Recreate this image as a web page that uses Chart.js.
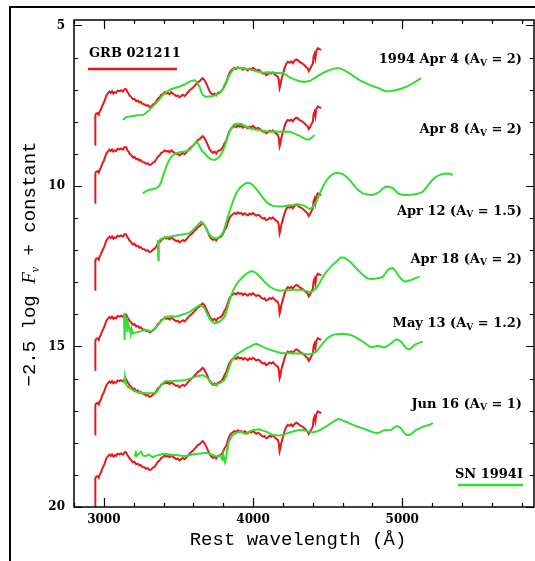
<!DOCTYPE html>
<html>
<head>
<meta charset="utf-8">
<script src="https://cdn.jsdelivr.net/npm/chart.js@4/dist/chart.umd.min.js"></script>
<style>
  html, body { margin: 0; padding: 0; background: #fff; }
  #wrap { width: 535px; height: 561px; }
</style>
</head>
<body>
<div id="wrap"><canvas id="c" width="535" height="561"></canvas></div>
<script>
// GRB 021211 rest-frame spectrum, -2.5 log F_nu (top copy; lower copies are shifted by a constant)
const grb021211 = [
  [2941,8.72],[2942,7.90],[2943,8.50],[2944,7.80],[2948,7.75],[2958,7.73],[2966,7.78],[2972,7.68],
  [2980,7.62],[2991,7.48],[3000,7.40],[3008,7.30],[3018,7.17],[3026,7.12],[3038,7.06],[3046,7.10],
  [3055,7.05],[3064,7.12],[3072,7.08],[3082,7.10],[3092,7.03],[3105,7.05],[3115,7.02],[3128,7.06],
  [3140,6.98],[3150,6.99],[3158,7.08],[3166,7.12],[3172,7.18],[3182,7.22],[3195,7.30],[3205,7.28],
  [3217,7.36],[3228,7.34],[3238,7.40],[3246,7.38],[3258,7.44],[3270,7.45],[3284,7.50],[3295,7.48],
  [3306,7.54],[3318,7.52],[3330,7.46],[3340,7.44],[3352,7.36],[3362,7.28],[3373,7.24],[3385,7.16],
  [3396,7.14],[3408,7.08],[3418,7.12],[3430,7.10],[3440,7.14],[3452,7.08],[3462,7.12],[3474,7.16],
  [3485,7.20],[3496,7.18],[3507,7.24],[3518,7.20],[3530,7.16],[3541,7.20],[3552,7.15],[3564,7.08],
  [3575,7.02],[3586,6.98],[3596,6.94],[3608,6.88],[3620,6.82],[3630,6.76],[3641,6.74],[3652,6.68],
  [3663,6.64],[3674,6.70],[3686,6.80],[3697,6.92],[3708,7.04],[3720,7.12],[3731,7.16],[3742,7.12],
  [3753,7.18],[3764,7.10],[3775,7.08],[3787,7.05],[3798,6.98],[3809,6.86],[3820,6.78],[3831,6.62],
  [3842,6.48],[3854,6.40],[3865,6.36],[3876,6.32],[3887,6.36],[3898,6.30],[3909,6.34],[3921,6.32],
  [3932,6.38],[3943,6.33],[3954,6.36],[3965,6.40],[3977,6.34],[3988,6.37],[3999,6.32],[4010,6.36],
  [4021,6.41],[4033,6.38],[4044,6.40],[4055,6.46],[4066,6.50],[4077,6.48],[4088,6.55],[4100,6.52],
  [4111,6.47],[4122,6.50],[4133,6.46],[4144,6.52],[4155,6.56],[4166,6.60],[4172,6.68],[4178,6.96],
  [4183,6.88],[4189,6.70],[4200,6.52],[4211,6.33],[4222,6.20],[4233,6.13],[4245,6.16],[4256,6.12],
  [4267,6.18],[4278,6.10],[4290,6.06],[4300,6.08],[4312,6.14],[4323,6.16],[4334,6.20],[4345,6.24],
  [4357,6.30],[4367,6.34],[4373,6.42],[4379,6.38],[4390,6.28],[4401,6.18],[4406,5.95],[4412,5.88],
  [4418,6.02],[4424,5.80],[4434,5.71],[4445,5.74],[4457,5.76]
];

// vertical shift of the GRB spectrum in each comparison panel
const grbOffsets = [0, 1.81, 4.52, 7.02, 9.03, 11.31];

// SN 1994I spectra, one per epoch
const sn94iApr4 = [
  [3127,7.94],[3150,7.86],[3172,7.84],[3194,7.82],[3228,7.80],[3261,7.79],[3284,7.72],[3306,7.63],
  [3328,7.52],[3351,7.42],[3373,7.30],[3395,7.17],[3418,7.08],[3440,7.01],[3474,6.95],[3507,6.91],
  [3540,6.84],[3574,6.75],[3608,6.70],[3625,6.78],[3641,6.91],[3652,7.05],[3663,7.17],[3680,7.21],
  [3697,7.22],[3731,7.20],[3753,7.16],[3775,7.11],[3792,7.02],[3809,6.91],[3825,6.74],[3842,6.54],
  [3860,6.42],[3876,6.33],[3904,6.32],[3932,6.33],[3965,6.36],[3999,6.39],[4033,6.44],[4066,6.47],
  [4100,6.46],[4133,6.47],[4166,6.48],[4200,6.49],[4222,6.54],[4245,6.62],[4278,6.68],[4312,6.74],
  [4345,6.76],[4379,6.73],[4412,6.64],[4446,6.54],[4480,6.45],[4513,6.39],[4546,6.34],[4580,6.33],
  [4613,6.40],[4647,6.49],[4680,6.60],[4714,6.70],[4748,6.78],[4781,6.85],[4815,6.91],[4848,6.96],
  [4871,7.02],[4893,7.06],[4926,7.04],[4960,7.01],[4993,6.97],[5027,6.91],[5049,6.86],[5071,6.80],
  [5100,6.72],[5127,6.64]
];
const sn94iApr8 = [
  [3261,10.23],[3284,10.16],[3306,10.12],[3328,10.10],[3351,10.07],[3370,10.00],[3385,9.88],[3395,9.71],
  [3407,9.55],[3418,9.40],[3435,9.22],[3452,9.09],[3468,9.02],[3485,8.98],[3507,8.95],[3529,8.93],
  [3552,8.91],[3574,8.88],[3596,8.76],[3619,8.62],[3630,8.66],[3645,8.80],[3660,8.92],[3675,8.98],
  [3690,9.07],[3708,9.14],[3725,9.18],[3742,9.19],[3758,9.15],[3775,9.09],[3792,8.96],[3809,8.78],
  [3825,8.55],[3842,8.31],[3860,8.16],[3876,8.07],[3900,8.06],[3921,8.07],[3950,8.14],[3977,8.20],
  [4010,8.24],[4044,8.26],[4077,8.29],[4111,8.31],[4145,8.30],[4178,8.31],[4211,8.30],[4245,8.31],
  [4278,8.37],[4312,8.44],[4340,8.51],[4357,8.55],[4375,8.55],[4390,8.51],[4412,8.41]
];
const sn94iApr12 = [
  [3362,11.68],[3365,12.31],[3368,11.75],[3378,11.66],[3395,11.63],[3418,11.60],[3440,11.58],[3474,11.55],
  [3507,11.53],[3540,11.50],[3574,11.47],[3596,11.38],[3619,11.27],[3636,11.18],[3653,11.11],[3670,11.20],
  [3686,11.32],[3703,11.48],[3720,11.58],[3736,11.62],[3753,11.63],[3770,11.60],[3787,11.53],[3800,11.44],
  [3809,11.32],[3820,11.14],[3831,10.96],[3842,10.80],[3854,10.64],[3870,10.42],[3887,10.23],[3910,10.07],
  [3932,9.97],[3950,9.92],[3965,9.90],[3982,9.92],[3999,9.97],[4020,10.08],[4044,10.23],[4066,10.37],
  [4088,10.49],[4111,10.57],[4133,10.62],[4166,10.64],[4200,10.64],[4233,10.61],[4267,10.59],[4290,10.57],
  [4312,10.58],[4345,10.62],[4379,10.72],[4400,10.66],[4424,10.49],[4446,10.25],[4468,10.02],[4490,9.84],
  [4513,9.71],[4535,9.63],[4558,9.59],[4580,9.60],[4602,9.63],[4625,9.71],[4647,9.81],[4670,9.94],
  [4692,10.07],[4714,10.16],[4736,10.23],[4770,10.27],[4803,10.28],[4826,10.24],[4848,10.18],[4870,10.08],
  [4893,10.02],[4915,10.03],[4937,10.07],[4955,10.15],[4971,10.23],[5000,10.27],[5027,10.28],[5060,10.27],
  [5094,10.25],[5116,10.23],[5138,10.18],[5160,10.05],[5183,9.92],[5205,9.80],[5228,9.71],[5260,9.64],
  [5295,9.61],[5320,9.62],[5339,9.66]
];
const sn94iApr18 = [
  [3135,13.97],[3139,14.80],[3143,14.05],[3150,14.12],[3158,14.55],[3162,14.25],[3172,14.43],[3180,14.62],
  [3185,14.45],[3194,14.59],[3215,14.56],[3239,14.54],[3260,14.50],[3284,14.49],[3306,14.52],[3328,14.51],
  [3350,14.40],[3373,14.28],[3395,14.15],[3418,14.07],[3450,14.06],[3485,14.07],[3518,14.02],[3552,13.97],
  [3575,13.92],[3596,13.86],[3620,13.78],[3641,13.71],[3658,13.74],[3675,13.81],[3690,13.96],[3708,14.12],
  [3725,14.22],[3742,14.28],[3758,14.26],[3775,14.23],[3792,14.16],[3809,14.07],[3820,13.93],[3831,13.76],
  [3842,13.58],[3854,13.40],[3870,13.22],[3887,13.08],[3910,12.94],[3932,12.83],[3960,12.72],[3988,12.65],
  [4005,12.67],[4021,12.72],[4044,12.82],[4066,12.93],[4088,13.04],[4111,13.14],[4145,13.22],[4178,13.26],
  [4211,13.25],[4245,13.25],[4278,13.23],[4312,13.23],[4345,13.26],[4379,13.30],[4400,13.28],[4424,13.19],
  [4446,13.02],[4468,12.83],[4490,12.68],[4513,12.56],[4535,12.45],[4558,12.36],[4575,12.28],[4591,12.22],
  [4613,12.24],[4636,12.31],[4660,12.41],[4681,12.51],[4703,12.62],[4725,12.72],[4747,12.81],[4769,12.88],
  [4797,12.90],[4826,12.88],[4850,12.86],[4871,12.83],[4887,12.72],[4903,12.62],[4920,12.57],[4937,12.56],
  [4955,12.65],[4971,12.77],[4993,12.90],[5015,12.98],[5038,12.96],[5060,12.93],[5088,12.87],[5116,12.83]
];
const sn94iMay13 = [
  [3136,15.99],[3139,16.15],[3142,15.95],[3150,16.20],[3167,16.28],[3184,16.33],[3200,16.38],[3217,16.41],
  [3250,16.44],[3284,16.46],[3318,16.46],[3351,16.44],[3368,16.32],[3385,16.20],[3400,16.12],[3418,16.07],
  [3450,16.08],[3485,16.07],[3518,16.06],[3552,16.04],[3586,15.99],[3619,15.94],[3640,15.91],[3663,15.89],
  [3686,15.95],[3708,16.04],[3725,16.14],[3742,16.20],[3758,16.18],[3775,16.15],[3792,16.10],[3809,16.04],
  [3820,15.92],[3831,15.78],[3842,15.62],[3854,15.47],[3870,15.35],[3887,15.26],[3910,15.19],[3932,15.13],
  [3955,15.06],[3977,15.01],[4000,14.95],[4021,14.92],[4044,14.96],[4066,15.01],[4100,15.08],[4133,15.13],
  [4166,15.18],[4200,15.21],[4233,15.21],[4267,15.21],[4300,15.22],[4334,15.23],[4357,15.24],[4379,15.24],
  [4400,15.22],[4424,15.16],[4446,15.03],[4468,14.90],[4490,14.78],[4513,14.69],[4540,14.63],[4569,14.61],
  [4597,14.60],[4625,14.61],[4653,14.64],[4681,14.69],[4708,14.77],[4736,14.85],[4764,14.95],[4792,15.03],
  [4815,15.00],[4837,14.98],[4860,15.01],[4882,15.03],[4905,14.97],[4926,14.90],[4943,14.83],[4960,14.78],
  [4977,14.80],[4993,14.85],[5010,14.96],[5027,15.06],[5049,15.09],[5066,15.03],[5082,14.95],[5100,14.91],
  [5116,14.88],[5138,14.85]
];
const sn94iJun16 = [
  [3206,18.43],[3215,18.30],[3222,18.40],[3239,18.33],[3250,18.28],[3262,18.40],[3284,18.41],[3300,18.36],
  [3328,18.45],[3350,18.40],[3373,18.38],[3395,18.34],[3418,18.35],[3450,18.37],[3485,18.38],[3518,18.40],
  [3552,18.41],[3586,18.37],[3619,18.35],[3650,18.33],[3686,18.31],[3708,18.34],[3731,18.38],[3750,18.42],
  [3764,18.43],[3780,18.40],[3795,18.52],[3800,18.35],[3812,18.60],[3820,18.48],[3826,18.20],[3831,18.07],
  [3842,17.92],[3854,17.81],[3870,17.74],[3887,17.70],[3905,17.66],[3921,17.65],[3938,17.70],[3954,17.73],
  [3977,17.65],[3999,17.60],[4021,17.59],[4044,17.58],[4066,17.62],[4088,17.65],[4111,17.71],[4133,17.76],
  [4166,17.77],[4200,17.76],[4233,17.70],[4267,17.65],[4300,17.61],[4334,17.60],[4357,17.63],[4379,17.66],
  [4400,17.67],[4424,17.65],[4446,17.61],[4468,17.55],[4496,17.47],[4524,17.39],[4547,17.32],[4569,17.26],
  [4591,17.28],[4613,17.33],[4640,17.38],[4669,17.44],[4700,17.50],[4736,17.55],[4764,17.60],[4792,17.65],
  [4815,17.69],[4837,17.70],[4860,17.65],[4882,17.60],[4905,17.61],[4926,17.60],[4943,17.53],[4960,17.48],
  [4977,17.50],[4993,17.55],[5010,17.67],[5027,17.76],[5044,17.76],[5060,17.73],[5077,17.66],[5094,17.60],
  [5116,17.55],[5138,17.50],[5160,17.47],[5183,17.44],[5205,17.39]
];

const snSpectra = [sn94iApr4, sn94iApr8, sn94iApr12, sn94iApr18, sn94iMay13, sn94iJun16];

// epoch labels, extinction used, and the y value each label sits at
const epochLabels = ['1994 Apr 4', 'Apr 8', 'Apr 12', 'Apr 18', 'May 13', 'Jun 16'];
const epochAv = ['2', '2', '1.5', '2', '1.2', '1'];
const epochLabelY = [6.07, 8.25, 10.80, 12.28, 14.30, 16.80];

// axis ticks
const xTickLabels = [3000, 4000, 5000];
const yTickLabels = [5, 10, 15, 20];
const xMinorStep = 200, xMajorStep = 1000;
const yMinorStep = 1, yMajorStep = 5;

const RED = '#e21b1b';
const GREEN = '#33dd33';

const datasets = [];
snSpectra.forEach((spec, i) => {
  datasets.push({
    label: 'SN 1994I ' + epochLabels[i],
    data: spec.map(p => ({ x: p[0], y: p[1] })),
    borderColor: GREEN, borderWidth: 2, pointRadius: 0, tension: 0, order: 0
  });
});
grbOffsets.forEach((off, i) => {
  datasets.push({
    label: 'GRB 021211 + ' + off,
    data: grb021211.map(p => ({ x: p[0], y: p[1] + off })),
    borderColor: RED, borderWidth: 2, pointRadius: 0, tension: 0, order: 1
  });
});

const SERIF_BOLD = 'bold 13px "DejaVu Serif"';
const SUB_BOLD = 'bold 9px "DejaVu Serif"';

function drawPieces(ctx, pieces, x, y, align) {
  // pieces: {t, font, dy}
  let total = 0;
  pieces.forEach(p => { ctx.font = p.font; p.w = ctx.measureText(p.t).width; total += p.w; });
  let cx = align === 'right' ? x - total : (align === 'center' ? x - total / 2 : x);
  pieces.forEach(p => {
    ctx.font = p.font;
    ctx.fillText(p.t, cx, y + (p.dy || 0));
    cx += p.w;
  });
}

const framePlugin = {
  id: 'framePlugin',
  afterDraw(chart) {
    const { ctx, chartArea: a, scales: { x, y } } = chart;
    ctx.save();
    ctx.strokeStyle = '#000';
    ctx.fillStyle = '#000';

    // plot box
    ctx.lineWidth = 1.5;
    ctx.strokeRect(a.left, a.top, a.right - a.left, a.bottom - a.top);

    // inward tick marks on all four sides
    ctx.lineWidth = 1.2;
    ctx.beginPath();
    for (let v = Math.ceil(x.min / xMinorStep) * xMinorStep; v <= x.max; v += xMinorStep) {
      const px = Math.round(x.getPixelForValue(v)) + 0.5;
      const len = v % xMajorStep === 0 ? 9 : 4;
      ctx.moveTo(px, a.bottom); ctx.lineTo(px, a.bottom - len);
      ctx.moveTo(px, a.top); ctx.lineTo(px, a.top + len);
    }
    for (let v = Math.ceil(y.min / yMinorStep) * yMinorStep; v <= y.max; v += yMinorStep) {
      const py = Math.round(y.getPixelForValue(v)) + 0.5;
      const len = v % yMajorStep === 0 ? 8 : 4;
      ctx.moveTo(a.left, py); ctx.lineTo(a.left + len, py);
      ctx.moveTo(a.right, py); ctx.lineTo(a.right - len, py);
    }
    ctx.stroke();

    // outer figure frame
    ctx.lineWidth = 2;
    ctx.strokeRect(10, 7, 620, 620);

    // legend entries
    ctx.textBaseline = 'middle';
    ctx.textAlign = 'left';
    ctx.font = SERIF_BOLD;
    ctx.fillText('GRB 021211', 89, 54);
    ctx.lineWidth = 2.5;
    ctx.strokeStyle = RED;
    ctx.beginPath(); ctx.moveTo(88, 69); ctx.lineTo(177, 69); ctx.stroke();

    ctx.textAlign = 'right';
    ctx.fillText('SN 1994I', 523, 475);
    ctx.strokeStyle = GREEN;
    ctx.beginPath(); ctx.moveTo(458, 485); ctx.lineTo(523, 485); ctx.stroke();

    // epoch labels
    ctx.textAlign = 'left';
    epochLabels.forEach((lab, i) => {
      const py = y.getPixelForValue(epochLabelY[i]);
      drawPieces(ctx, [
        { t: lab + ' (A', font: SERIF_BOLD },
        { t: 'V', font: SUB_BOLD, dy: 3.5 },
        { t: ' = ' + epochAv[i] + ')', font: SERIF_BOLD }
      ], 522, py, 'right');
    });

    // axis titles
    ctx.textBaseline = 'alphabetic';
    ctx.textAlign = 'center';
    ctx.font = '19px "Liberation Mono"';
    ctx.fillText('Rest wavelength (\u00C5)', 298, 545);

    ctx.translate(35, 264);
    ctx.rotate(-Math.PI / 2);
    ctx.textAlign = 'left';
    drawPieces(ctx, [
      { t: '\u22122.5 log ', font: '19px "Liberation Mono"' },
      { t: 'F', font: 'italic 19px "Liberation Serif"' },
      { t: '\u03BD', font: 'italic 12px "Liberation Serif"', dy: 4 },
      { t: ' + constant', font: '19px "Liberation Mono"' }
    ], 0, 0, 'center');
    ctx.restore();
  }
};

new Chart(document.getElementById('c'), {
  type: 'line',
  data: { datasets },
  options: {
    responsive: false,
    animation: false,
    devicePixelRatio: 1,
    layout: { padding: { top: 20, right: 1, left: 0, bottom: 0 } },
    plugins: { legend: { display: false }, tooltip: { enabled: false }, title: { display: false } },
    scales: {
      x: {
        type: 'linear', min: 2800, max: 5883,
        afterBuildTicks: s => { s.ticks = xTickLabels.map(v => ({ value: v })); },
        afterFit: s => { s.height = 54; },
        ticks: {
          font: { family: 'DejaVu Serif', weight: 'bold', size: 12 }, color: '#000',
          padding: 6, maxRotation: 0, autoSkip: false,
          callback: v => String(v)
        },
        grid: { display: false, drawTicks: false },
        border: { display: false }
      },
      y: {
        type: 'linear', reverse: true, min: 4.83, max: 20,
        afterBuildTicks: s => { s.ticks = yTickLabels.map(v => ({ value: v })); },
        afterFit: s => { s.width = 74; },
        ticks: {
          font: { family: 'DejaVu Serif', weight: 'bold', size: 12 }, color: '#000',
          padding: 9, autoSkip: false,
          callback: v => String(v)
        },
        grid: { display: false, drawTicks: false },
        border: { display: false }
      }
    }
  },
  plugins: [framePlugin]
});
</script>
</body>
</html>
